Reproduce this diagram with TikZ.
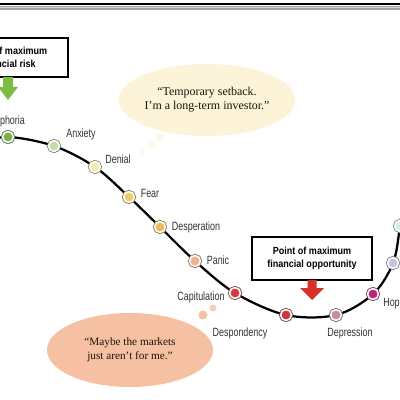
\documentclass[tikz,border=0pt]{standalone}
\usepackage{fontspec}
\setmainfont{Liberation Serif}
\newfontfamily\stagefont[FakeStretch=0.75]{Liberation Sans}
\newfontfamily\boxfont[FakeStretch=0.88]{Liberation Sans}
\usepackage{tikz}
\usetikzlibrary{shapes.geometric, backgrounds}

\tikzset{
  stage/.style={circle, minimum size=0.27cm, inner sep=0pt, fill=#1, draw=white, line width=1.1pt,
    preaction={draw=#1!50!black!80, line width=2.4pt}},
  stagelabel/.style={font=\stagefont\fontsize{8.5}{10}\selectfont, text=black!80},
  markbox/.style={draw=black, line width=1.3pt, fill=white, minimum width=3cm, align=center,
    font=\boxfont\bfseries\fontsize{7.3}{9.2}\selectfont},
  thought/.style={ellipse, fill=#1, inner sep=0pt, align=center, text=black!85!brown,
    font=\fontsize{8.5}{10}\selectfont},
  curveline/.style={black, line width=1.6pt, line cap=round}
}

\begin{document}
\begin{tikzpicture}[x=0.025cm, y=-0.025cm]
\definecolor{stEuphoria}{HTML}{78B04A}
\definecolor{stAnxiety}{HTML}{C7DDA8}
\definecolor{stDenial}{HTML}{F3EBB0}
\definecolor{stFear}{HTML}{EFCB6A}
\definecolor{stDesperation}{HTML}{E6BE5A}
\definecolor{stPanic}{HTML}{F0B08A}
\definecolor{stCapitulation}{HTML}{D63A3C}
\definecolor{stDespondency}{HTML}{C93A3A}
\definecolor{stDepression}{HTML}{C88BA5}
\definecolor{stHope}{HTML}{BD237C}
\definecolor{stRelief}{HTML}{C8C2E2}
\definecolor{stOptimism}{HTML}{D5EBE3}
\definecolor{bubCream}{HTML}{FCF3D8}
\definecolor{bubSalmon}{HTML}{F5C1A2}
\definecolor{arGreen}{HTML}{7DBB42}
\definecolor{arRed}{HTML}{D7302A}
\useasboundingbox (0,0) rectangle (400,400);

% top rule
\fill[black] (0,3.5) rectangle (400,5.5);
\fill[gray!70] (0,6) rectangle (400,10);
\fill[gray!35] (0,7.5) rectangle (400,8.5);

% stages on the curve
\node[stage=stEuphoria]     (euphoria)     at (8,137)   {};
\node[stage=stAnxiety]      (anxiety)      at (54,146)  {};
\node[stage=stDenial]       (denial)       at (95,167)  {};
\node[stage=stFear]         (fear)         at (129,197) {};
\node[stage=stDesperation]  (desperation)  at (160,227) {};
\node[stage=stPanic]        (panic)        at (195,261) {};
\node[stage=stCapitulation] (capitulation) at (235,293) {};
\node[stage=stDespondency]  (despondency)  at (286,315) {};
\node[stage=stDepression]   (depression)   at (336,315) {};
\node[stage=stHope]         (hope)         at (373,294) {};
\node[stage=stRelief]       (relief)       at (393,263) {};
\node[stage=stOptimism]     (optimism)     at (400,226) {};
\coordinate (curveIn)  at (-25,143);
\coordinate (curveOut) at (405,185);

\node[stagelabel] (lEuphoria)     at (7,121)   {Euphoria};
\node[stagelabel] (lAnxiety)      at (81,134)  {Anxiety};
\node[stagelabel] (lDenial)       at (118,159) {Denial};
\node[stagelabel] (lFear)         at (150,193) {Fear};
\node[stagelabel] (lDesperation)  at (196,227) {Desperation};
\node[stagelabel] (lPanic)        at (218,260) {Panic};
\node[stagelabel] (lCapitulation) at (201,297) {Capitulation};
\node[stagelabel] (lDespondency)  at (240,333) {Despondency};
\node[stagelabel] (lDepression)   at (350,333) {Depression};
\node[stagelabel] (lHope)         at (394,304) {Hope};

\begin{pgfonlayer}{background}
\fill[white] (0,0) rectangle (400,400);
\draw[curveline] plot[smooth, tension=0.55] coordinates {(curveIn) (euphoria) (anxiety) (denial) (fear)
  (desperation) (panic) (capitulation) (despondency) (depression) (hope) (relief) (optimism) (curveOut)};
\end{pgfonlayer}

% boxes and arrows
\node[markbox, minimum height=0.975cm] (riskBox) at (8,57.5) {Point of maximum\\financial risk};
\fill[arGreen] (3,77) -- (13,77) -- (13,87) -- (18,87) -- (8,100) -- (-2,87) -- (3,87) -- cycle;
\node[markbox, minimum height=1.075cm] (oppBox) at (312,258.5) {Point of maximum\\financial opportunity};
\fill[arRed] (307.5,280) -- (316.5,280) -- (316.5,288) -- (324,288) -- (312,300) -- (300,288) -- (307.5,288) -- cycle;

% thought bubbles
\fill[bubCream!70] (160,137) circle (4);
\fill[bubCream!60] (152,145) circle (3.5);
\fill[bubCream!50] (143,152) circle (3);
\node[thought=bubCream, minimum width=4.1cm, minimum height=1.8cm] (setback) at (207,100)
  {``Temporary setback.\\I'm a long-term investor.''};

\fill[bubSalmon] (203,315) circle (4.5);
\fill[bubSalmon!80] (213,308) circle (3.5);
\node[thought=bubSalmon, minimum width=4.15cm, minimum height=1.85cm, font=\fontsize{8}{10}\selectfont]
  (markets) at (130,350) {``Maybe the markets\\just aren't for me.''};
\end{tikzpicture}
\end{document}
